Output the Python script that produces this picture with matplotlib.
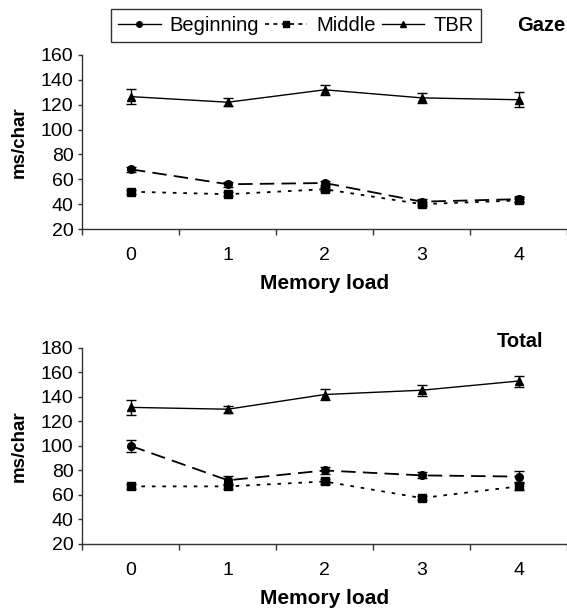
import numpy as np
import matplotlib
matplotlib.use('Agg')
import matplotlib.pyplot as plt
from matplotlib.lines import Line2D

plt.rcParams['font.family'] = ['Liberation Sans', 'DejaVu Sans']
plt.rcParams['font.size'] = 14

# memory load conditions
loads = [0, 1, 2, 3, 4]

# Gaze duration (ms/char)
gaze_beg = [68, 56, 57, 42, 44]
gaze_beg_err = [2, 2, 2, 2, 2]
gaze_mid = [50, 48, 52, 40, 43]
gaze_mid_err = [1.5, 1.5, 1.5, 1.5, 1.5]
gaze_tbr = [126.5, 122, 132, 125.5, 124]
gaze_tbr_err = [6, 3, 4, 4, 6]

# Total time (ms/char)
tot_beg = [100, 72, 80, 76, 75]
tot_beg_err = [5, 3.5, 2.5, 2.5, 4.5]
tot_mid = [67, 67, 71, 57.5, 67]
tot_mid_err = [2, 2, 2, 2, 3]
tot_tbr = [131.5, 130, 142, 145.5, 153]
tot_tbr_err = [6, 3, 4.5, 4.5, 4.5]

fig = plt.figure(figsize=(5.67, 6.11), dpi=100)
ax1 = fig.add_axes([0.1455, 0.6252, 0.8545, 0.2848])
ax2 = fig.add_axes([0.1455, 0.1097, 0.8545, 0.3208])

styles = {
    'beg': dict(marker='o', ls=(0, (8, 4)), ms=5.5, lw=1.3),
    'mid': dict(marker='s', ls=(0, (2, 3.8)), ms=5.5, lw=1.3),
    'tbr': dict(marker='^', ls='-', ms=6, lw=1.0),
}
axis_col = '#333333'

def draw(ax, beg, beg_e, mid, mid_e, tbr, tbr_e, ymin, ymax):
    for y, e, key in [(tbr, tbr_e, 'tbr'), (beg, beg_e, 'beg'), (mid, mid_e, 'mid')]:
        st = styles[key]
        ax.errorbar(loads, y, yerr=e, color='black', lw=st['lw'],
                    ls=st['ls'], marker=st['marker'], ms=st['ms'],
                    capsize=3.3, elinewidth=1.0, capthick=1.0, clip_on=False)
    ax.set_xlim(-0.5, 4.5)
    ax.set_ylim(ymin, ymax)
    ax.set_yticks(np.arange(ymin, ymax + 1, 20))
    ax.set_xticks(loads)
    ax.set_xticks(np.arange(-0.5, 4.6, 1), minor=True)
    ax.tick_params(axis='x', which='major', length=0, pad=13, labelsize=14)
    ax.tick_params(axis='x', which='minor', length=4.3, width=1.0, direction='out', color=axis_col)
    ax.tick_params(axis='y', length=3, width=1.0, direction='out', pad=3.5, labelsize=14, color=axis_col)
    for s in ['top', 'right']:
        ax.spines[s].set_visible(False)
    for s in ['left', 'bottom']:
        ax.spines[s].set_color(axis_col)
        ax.spines[s].set_linewidth(1.0)
    ax.set_xlabel('Memory load', fontweight='bold', fontsize=15, labelpad=7)
    ax.set_ylabel('ms/char', fontweight='bold', fontsize=13.5, labelpad=9)

draw(ax1, gaze_beg, gaze_beg_err, gaze_mid, gaze_mid_err, gaze_tbr, gaze_tbr_err, 20, 160)
draw(ax2, tot_beg, tot_beg_err, tot_mid, tot_mid_err, tot_tbr, tot_tbr_err, 20, 180)

fig.text(0.997, 0.958, 'Gaze', ha='right', va='center', fontweight='bold', fontsize=14.5)
fig.text(0.958, 0.441, 'Total', ha='right', va='center', fontweight='bold', fontsize=14.5)

handles = [
    Line2D([], [], color='black', marker='o', ls='-', lw=1.0, ms=4),
    Line2D([], [], color='black', marker='s', ls=(0, (2.5, 2.5)), lw=1.2, ms=4),
    Line2D([], [], color='black', marker='^', ls='-', lw=1.0, ms=4.5),
]
leg = fig.legend(handles, ['Beginning', 'Middle', 'TBR'], ncol=3,
                 loc='center', bbox_to_anchor=(0.522, 0.958),
                 frameon=True, fancybox=False, edgecolor='black',
                 handlelength=2.1, handletextpad=0.45, columnspacing=0.3,
                 borderpad=0.35, borderaxespad=0, fontsize=14.5)
leg.get_frame().set_linewidth(1.0)

fig.savefig('out.png', dpi=100)
